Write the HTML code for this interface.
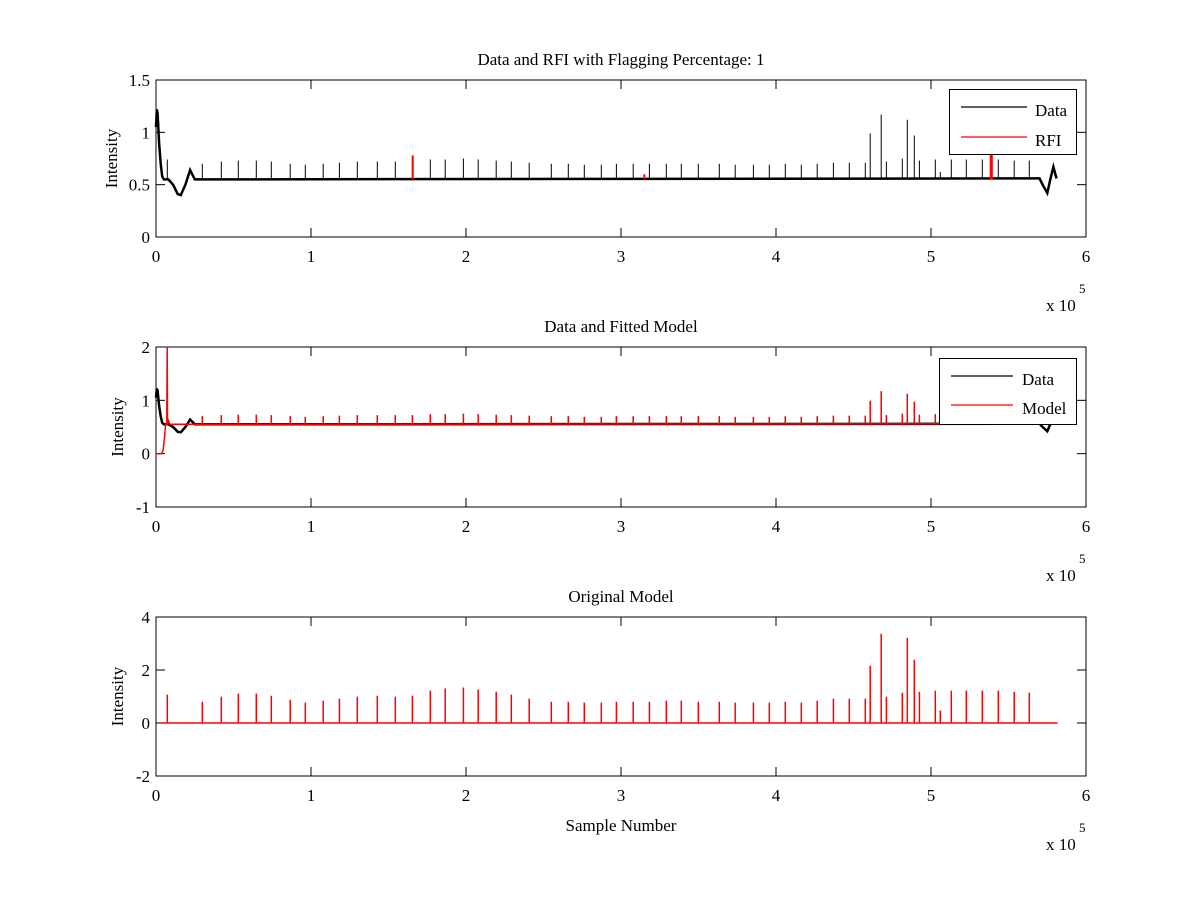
<!DOCTYPE html>
<html><head><meta charset="utf-8"><style>
body{margin:0;background:#fff}
svg text{font-family:"Liberation Serif",serif;font-size:17px;fill:#000}
</style></head><body>
<svg id="fig" width="1200" height="900" xmlns="http://www.w3.org/2000/svg">
<rect width="1200" height="900" fill="#fff"/>
</svg>
<script>
// ---- data (x in units of 1e5 samples) ----
const spikeX = [0.073,0.299,0.421,0.531,0.647,0.744,0.866,0.963,1.079,1.183,1.299,1.428,1.544,1.654,1.770,1.866,1.983,2.079,2.195,2.292,2.408,2.550,2.660,2.763,2.873,2.970,3.079,3.183,3.292,3.389,3.499,3.634,3.737,3.854,3.957,4.060,4.163,4.266,4.370,4.473,4.576,4.608,4.679,4.712,4.815,4.847,4.892,4.925,5.028,5.060,5.131,5.228,5.331,5.434,5.537,5.634];
const modelVals = [1.07,0.80,0.99,1.11,1.11,1.03,0.88,0.77,0.84,0.92,0.99,1.03,0.99,1.03,1.22,1.30,1.34,1.26,1.18,1.07,0.92,0.80,0.80,0.77,0.77,0.80,0.80,0.80,0.84,0.84,0.80,0.80,0.77,0.77,0.77,0.80,0.77,0.84,0.92,0.92,0.92,2.16,3.37,0.99,1.14,3.22,2.39,1.18,1.22,0.47,1.22,1.22,1.22,1.22,1.18,1.14];
const dataVals = [0.74,0.70,0.72,0.73,0.73,0.72,0.70,0.69,0.70,0.71,0.72,0.72,0.72,0.72,0.74,0.74,0.75,0.74,0.73,0.72,0.71,0.70,0.70,0.69,0.69,0.70,0.70,0.70,0.70,0.70,0.70,0.70,0.69,0.69,0.69,0.70,0.69,0.70,0.71,0.71,0.71,0.99,1.17,0.72,0.75,1.12,0.97,0.73,0.74,0.62,0.74,0.74,0.74,0.74,0.73,0.73];
const envX = [0,0.005,0.01,0.02,0.03,0.04,0.05,0.08,0.11,0.14,0.16,0.19,0.22,0.25,0.30,5.60,5.70,5.72,5.75,5.77,5.79,5.81];
const envY = [1.05,1.22,1.18,0.90,0.70,0.58,0.55,0.55,0.50,0.41,0.40,0.50,0.64,0.55,0.55,0.56,0.56,0.50,0.42,0.55,0.67,0.56];
const rfiX = [1.656,3.150,5.385,5.392];
const rfiVals = [0.78,0.60,0.85,0.85];
const fitX = [0,0.035,0.045,0.055,0.062,0.07,0.072,0.074,0.08,0.09,0.10];
const fitY = [0,0,0.05,0.30,0.55,0.55,2.0,0.55,0.62,0.55,0.55];
const xTicks = [0,1,2,3,4,5,6];
const y1Ticks = [0,0.5,1,1.5], y2Ticks=[-1,0,1,2], y3Ticks=[-2,0,2,4];

const NS="http://www.w3.org/2000/svg", svg=document.getElementById('fig');
function el(t,a,p){const e=document.createElementNS(NS,t);for(const k in a)e.setAttribute(k,a[k]);(p||svg).appendChild(e);return e;}
const X0=156,X1=1086;
const xs=v=>X0+v*(X1-X0)/6;
const panels=[
 {top:80,bot:237,min:0,max:1.5,ticks:y1Ticks,title:'Data and RFI with Flagging Percentage: 1',name:'rfi-panel'},
 {top:347,bot:507,min:-1,max:2,ticks:y2Ticks,title:'Data and Fitted Model',name:'fit-panel'},
 {top:617,bot:776,min:-2,max:4,ticks:y3Ticks,title:'Original Model',name:'model-panel'}];
panels.forEach(p=>{p.ys=v=>p.bot-(v-p.min)*(p.bot-p.top)/(p.max-p.min);});

function envPath(ys){
 return 'M'+envX.map((v,i)=>xs(v).toFixed(1)+' '+ys(envY[i]).toFixed(1)).join(' L');
}
function spikePath(ys,base){
 let d='';
 spikeX.forEach((v,i)=>{d+=` M${xs(v).toFixed(1)} ${ys(base).toFixed(1)} L${xs(v).toFixed(1)} ${ys(dataVals[i]).toFixed(1)}`;});
 return d;
}
panels.forEach((p,k)=>{
 const g=el('g',{});
 
 
 el('rect',{x:X0,y:p.top,width:X1-X0,height:p.bot-p.top,fill:'#fff',stroke:'#000','stroke-width':1},g);
 xTicks.forEach(t=>{const x=xs(t);
  el('line',{x1:x,y1:p.bot,x2:x,y2:p.bot-9,stroke:'#000'},g);
  el('line',{x1:x,y1:p.top,x2:x,y2:p.top+9,stroke:'#000'},g);
  const tx=el('text',{x:x,y:p.bot+25,'text-anchor':'middle'},g);tx.textContent=t;
  
  });
 p.ticks.forEach(t=>{const y=p.ys(t);
  el('line',{x1:X0,y1:y,x2:X0+9,y2:y,stroke:'#000'},g);
  el('line',{x1:X1,y1:y,x2:X1-9,y2:y,stroke:'#000'},g);
  const tx=el('text',{x:X0-6,y:y+6,'text-anchor':'end'},g);tx.textContent=t;
  
  });
 const tt=el('text',{x:621,y:p.top-15,'text-anchor':'middle'},g);tt.textContent=p.title;
 
 
 const yl=el('text',{x:0,y:0,'text-anchor':'middle',transform:`translate(${k==0?117:123},${(p.top+p.bot)/2}) rotate(-90)`},g);yl.textContent='Intensity';
 
 
 const ex=el('text',{x:1046,y:p.bot+74},g);ex.textContent='x 10';
 
 
 const e5=el('text',{x:1079,y:p.bot+56,style:'font-size:13px'},g);e5.textContent='5';
 
 
});
function drawData(p){
 const l=el('path',{d:envPath(p.ys),fill:'none',stroke:'#000','stroke-width':2.5});
 
 
 const s=el('path',{d:spikePath(p.ys,0.55),fill:'none',stroke:'#000','stroke-width':1});
 
 
}
// panel 1
{const p=panels[0];
 drawData(p);
 let d='';rfiX.forEach((v,i)=>{d+=`M${xs(v).toFixed(1)} ${p.ys(0.55)} L${xs(v).toFixed(1)} ${p.ys(rfiVals[i]).toFixed(1)} `;});
 const r=el('path',{d,fill:'none',stroke:'#f00','stroke-width':2});
 
 }
// panel 2
{const p=panels[1];
 drawData(p);
 let d='M'+fitX.map((v,i)=>xs(v).toFixed(1)+' '+p.ys(fitY[i]).toFixed(1)).join(' L')+` L${xs(5.66)} ${p.ys(0.56)}`;
 spikeX.forEach((v,i)=>{d+=` M${xs(v).toFixed(1)} ${p.ys(0.55)} L${xs(v).toFixed(1)} ${p.ys(dataVals[i]).toFixed(1)}`;});
 const r=el('path',{d,fill:'none',stroke:'#f00','stroke-width':1.5});
 
 }
// panel 3
{const p=panels[2];
 let d=`M${xs(0.03)} ${p.ys(0)} L${xs(5.817)} ${p.ys(0)}`;
 spikeX.forEach((v,i)=>{d+=` M${xs(v).toFixed(1)} ${p.ys(0)} L${xs(v).toFixed(1)} ${p.ys(modelVals[i]).toFixed(1)}`;});
 const r=el('path',{d,fill:'none',stroke:'#f00','stroke-width':1.5});
 
 
 const xl=el('text',{x:621,y:831,'text-anchor':'middle'});xl.textContent='Sample Number';
 
 }
// legends
function legend(x,y,w,h,lx1,lx2,tx,rows,name){
 const g=el('g',{});
 
 
 el('rect',{x,y,width:w,height:h,fill:'#fff',stroke:'#000'},g);
 rows.forEach(r=>{el('line',{x1:lx1,x2:lx2,y1:r.y,y2:r.y,stroke:r.c,'stroke-width':1.2},g);
  const t=el('text',{x:tx,y:r.y+9},g);t.textContent=r.t;
  
  });
}
legend(949.5,89.5,127,65,961,1027,1035,[{y:107,c:'#000',t:'Data'},{y:137,c:'#f00',t:'RFI'}],'legend-top');
legend(939.5,358.5,137,66,951,1013,1022,[{y:376,c:'#000',t:'Data'},{y:405,c:'#f00',t:'Model'}],'legend-middle');
</script>
</body></html>
